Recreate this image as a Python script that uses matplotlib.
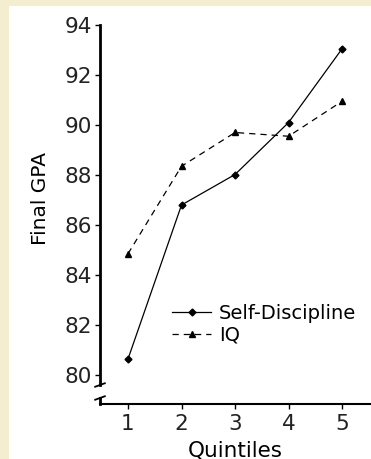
import matplotlib.pyplot as plt
from matplotlib.patches import Rectangle
import numpy as np

# Data
quintiles = [1, 2, 3, 4, 5]
self_discipline = [80.64, 86.8, 88.02, 90.1, 93.05]
iq = [84.85, 88.35, 89.7, 89.55, 90.95]
y_ticks = [80, 82, 84, 86, 88, 90, 92, 94]

plt.rcParams['font.family'] = ['DejaVu Sans']

fig = plt.figure(figsize=(3.71, 4.59), dpi=100, facecolor="#f4edcf")
# white panel on the cream background
fig.patches.append(Rectangle((9 / 371, 0), 1, 453 / 459, transform=fig.transFigure,
                             facecolor="white", edgecolor="none", zorder=-10))

ax = fig.add_axes([100 / 371, 1 - 404 / 459, 271 / 371, 379 / 459])
ax.set_facecolor("none")

ax.plot(quintiles, self_discipline, "-", color="black", lw=0.9,
        marker="D", ms=3.5, label="Self-Discipline")
ax.plot(quintiles, iq, "--", color="black", lw=0.9, dashes=(5, 4),
        marker="^", ms=4, label="IQ")

ax.set_xlim(0.477, 5.54)
ax.set_ylim(78.84, 94)
ax.set_xticks(quintiles)
ax.set_yticks(y_ticks)

for s in ["top", "right"]:
    ax.spines[s].set_visible(False)
ax.spines["left"].set_linewidth(2)
ax.spines["left"].set_bounds(79.6, 94)
ax.spines["bottom"].set_linewidth(1.5)

# axis break on the y axis
ax.plot([0.477, 0.477], [78.84, 79.08], color="black", lw=2, clip_on=False)
dx = 0.09
for yb in [79.6, 79.08]:
    ax.plot([0.477 - dx, 0.477 + dx], [yb - 0.07, yb + 0.07], color="black",
            lw=1.3, clip_on=False)

ax.tick_params(axis="both", labelsize=15.5, labelcolor="#222222", length=3.5, width=1)
ax.tick_params(axis="y", pad=2)
ax.tick_params(axis="x", pad=4)
ax.set_xlabel("Quintiles", fontsize=15.5)
ax.set_ylabel("Final GPA", fontsize=14.5)
ax.xaxis.set_label_coords(0.5, -0.095, transform=ax.transAxes)
ax.xaxis.label.set_va("top")
ax.yaxis.set_label_coords(-0.221, 0.542)
ax.yaxis.label.set_va("center")

ax.legend(loc="upper left", bbox_to_anchor=(0.266, 0.264), frameon=False,
          fontsize=14, handlelength=2.0, handletextpad=0.4, labelspacing=0.15,
          borderpad=0, borderaxespad=0)

fig.savefig("out.png", dpi=100, facecolor=fig.get_facecolor())
